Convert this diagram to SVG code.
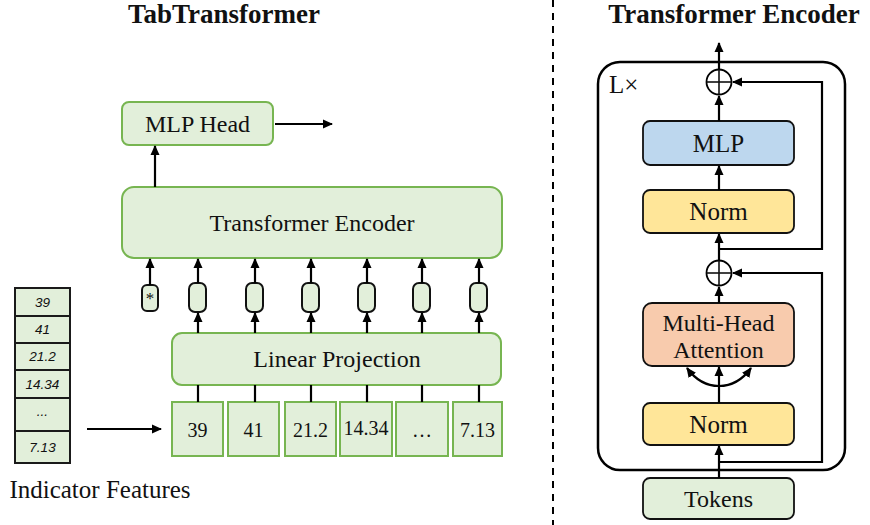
<svg xmlns="http://www.w3.org/2000/svg" width="870" height="525" viewBox="0 0 870 525">
<defs>
<marker id="ah" markerWidth="10" markerHeight="10" refX="9" refY="5" orient="auto" markerUnits="userSpaceOnUse">
<path d="M0,0.5 L10,5 L0,9.5 Z" fill="#000"/>
</marker>
<style>
.t{font-family:"Liberation Serif","Times New Roman",serif;fill:#111;text-anchor:middle}
.g{fill:#e2efda;stroke:#77b551;stroke-width:2}
.tok{fill:#e2efda;stroke:#111;stroke-width:2}
.k{fill:none;stroke:#000;stroke-width:2.2}
.ka{fill:none;stroke:#000;stroke-width:2.2;marker-end:url(#ah)}
.d{stroke:#111;stroke-width:1.6}
.tab{fill:#e2efda;stroke:#1a1a1a;stroke-width:2}
.it{font-family:"Liberation Sans",Arial,sans-serif;font-style:italic;font-size:13.5px;fill:#111;text-anchor:middle}
</style>
</defs>
<rect width="870" height="525" fill="#fff"/>

<text class="t" x="224" y="23" font-size="27" font-weight="bold">TabTransformer</text>
<text class="t" x="734" y="23" font-size="27" font-weight="bold">Transformer Encoder</text>
<line x1="553" y1="0" x2="553" y2="525" stroke="#000" stroke-width="2" stroke-dasharray="7,6"/>

<g id="mlp-head"><rect class="g" x="122" y="102" width="151" height="43" rx="7"/><text class="t" x="197.5" y="132" font-size="24">MLP Head</text></g>
<g id="transformer-encoder-box"><rect class="g" x="122" y="187" width="380" height="71" rx="12"/><text class="t" x="312" y="231" font-size="24">Transformer Encoder</text></g>
<g id="linear-projection"><rect class="g" x="172" y="333" width="329" height="52" rx="10"/><text class="t" x="337" y="367" font-size="24">Linear Projection</text></g>

<g id="tokens-small">
<rect class="tok" x="142" y="285" width="16" height="26" rx="5"/><text class="t" x="150" y="304" font-size="17">*</text>
<rect class="tok" x="189" y="283" width="17" height="29" rx="6"/>
<rect class="tok" x="246" y="283" width="17" height="29" rx="6"/>
<rect class="tok" x="302" y="283" width="17" height="29" rx="6"/>
<rect class="tok" x="358" y="283" width="17" height="29" rx="6"/>
<rect class="tok" x="413" y="283" width="17" height="29" rx="6"/>
<rect class="tok" x="470" y="283" width="17" height="29" rx="6"/>
</g>

<g id="values">
<rect class="g" x="172" y="402" width="51" height="54"/><text class="t" x="197.5" y="437" font-size="20">39</text>
<rect class="g" x="228" y="402" width="51" height="54"/><text class="t" x="253.5" y="437" font-size="20">41</text>
<rect class="g" x="285" y="402" width="51" height="54"/><text class="t" x="310.5" y="437" font-size="20">21.2</text>
<rect class="g" x="340" y="402" width="52" height="54"/><text class="t" x="366" y="435" font-size="20">14.34</text>
<rect class="g" x="396" y="402" width="52" height="54"/><text class="t" x="422" y="437" font-size="20">…</text>
<rect class="g" x="453" y="402" width="49" height="54"/><text class="t" x="477.5" y="437" font-size="20">7.13</text>
</g>

<g id="indicator-table">
<rect class="tab" x="15" y="288" width="55" height="28"/><text class="it" x="42.5" y="307">39</text>
<rect class="tab" x="15" y="316" width="55" height="27"/><text class="it" x="42.5" y="334">41</text>
<rect class="tab" x="15" y="343" width="55" height="27"/><text class="it" x="42.5" y="361">21.2</text>
<rect class="tab" x="15" y="370" width="55" height="28"/><text class="it" x="42.5" y="389">14.34</text>
<rect class="tab" x="15" y="398" width="55" height="33"/><text class="it" x="42.5" y="416">...</text>
<rect class="tab" x="15" y="431" width="55" height="32"/><text class="it" x="42.5" y="452">7.13</text>
<text class="t" x="100" y="498" font-size="25">Indicator Features</text>
</g>

<g id="enc-outer"><rect x="598" y="62" width="247" height="408" rx="22" fill="none" stroke="#000" stroke-width="2.5"/><text x="609" y="93" font-family="Liberation Serif,serif" font-size="25" fill="#111">L×</text></g>
<g id="add-top"><circle cx="719" cy="82" r="12.5" fill="#fff" stroke="#000" stroke-width="1.8"/><line class="d" x1="706.5" y1="82" x2="731.5" y2="82"/><line class="d" x1="719" y1="69.5" x2="719" y2="94.5"/></g>
<g id="mlp"><rect x="643" y="121" width="151" height="44" rx="7" fill="#bdd7ee" stroke="#111" stroke-width="1.8"/><text class="t" x="718.5" y="152" font-size="25">MLP</text></g>
<g id="norm-top"><rect x="643" y="190" width="151" height="43" rx="7" fill="#ffe699" stroke="#111" stroke-width="1.8"/><text class="t" x="718.5" y="220" font-size="25">Norm</text></g>
<g id="add-bottom"><circle cx="719" cy="273" r="12.5" fill="#fff" stroke="#000" stroke-width="1.8"/><line class="d" x1="706.5" y1="273" x2="731.5" y2="273"/><line class="d" x1="719" y1="260.5" x2="719" y2="285.5"/></g>
<g id="mha"><rect x="643" y="303" width="151" height="63" rx="9" fill="#f8cbad" stroke="#111" stroke-width="1.8"/><text class="t" x="718.5" y="331" font-size="24">Multi-Head</text><text class="t" x="718.5" y="358" font-size="24">Attention</text></g>
<g id="norm-bottom"><rect x="643" y="403" width="151" height="42" rx="7" fill="#ffe699" stroke="#111" stroke-width="1.8"/><text class="t" x="718.5" y="433" font-size="25">Norm</text></g>
<g id="tokens"><rect x="643" y="478" width="151" height="41" rx="7" fill="#e2efda" stroke="#111" stroke-width="1.8"/><text class="t" x="718.5" y="507" font-size="24">Tokens</text></g>

<g id="connectors">
<line class="ka" x1="275" y1="124" x2="332" y2="124"/>
<line class="ka" x1="155" y1="187" x2="155" y2="146"/>
<line class="ka" x1="150" y1="285" x2="150" y2="259"/>
<line class="ka" x1="198" y1="283" x2="198" y2="259"/>
<line class="ka" x1="255" y1="283" x2="255" y2="259"/>
<line class="ka" x1="311" y1="283" x2="311" y2="259"/>
<line class="ka" x1="367" y1="283" x2="367" y2="259"/>
<line class="ka" x1="422" y1="283" x2="422" y2="259"/>
<line class="ka" x1="479" y1="283" x2="479" y2="259"/>
<line class="ka" x1="198" y1="333" x2="198" y2="313"/>
<line class="ka" x1="255" y1="333" x2="255" y2="313"/>
<line class="ka" x1="311" y1="333" x2="311" y2="313"/>
<line class="ka" x1="367" y1="333" x2="367" y2="313"/>
<line class="ka" x1="422" y1="333" x2="422" y2="313"/>
<line class="ka" x1="479" y1="333" x2="479" y2="313"/>
<line class="k" x1="198" y1="402" x2="198" y2="385"/>
<line class="k" x1="255" y1="402" x2="255" y2="385"/>
<line class="k" x1="311" y1="402" x2="311" y2="385"/>
<line class="k" x1="367" y1="402" x2="367" y2="385"/>
<line class="k" x1="422" y1="402" x2="422" y2="385"/>
<line class="k" x1="479" y1="402" x2="479" y2="385"/>
<line class="ka" x1="87" y1="429" x2="161" y2="429"/>

<line class="ka" x1="719" y1="69" x2="719" y2="43"/>
<line class="ka" x1="719" y1="121" x2="719" y2="96"/>
<line class="ka" x1="719" y1="190" x2="719" y2="166"/>
<line class="ka" x1="719" y1="260" x2="719" y2="234"/>
<polyline class="ka" points="719,249 822,249 822,82 733,82"/>
<line class="ka" x1="719" y1="303" x2="719" y2="287"/>
<polyline class="ka" points="719,462 822,462 822,273 733,273"/>
<line class="ka" x1="719" y1="403" x2="719" y2="367"/>
<path class="ka" d="M719,386 Q700,386 687,368"/>
<path class="ka" d="M719,386 Q738,386 751,368"/>
<line class="ka" x1="719" y1="478" x2="719" y2="446"/>
</g>
</svg>
